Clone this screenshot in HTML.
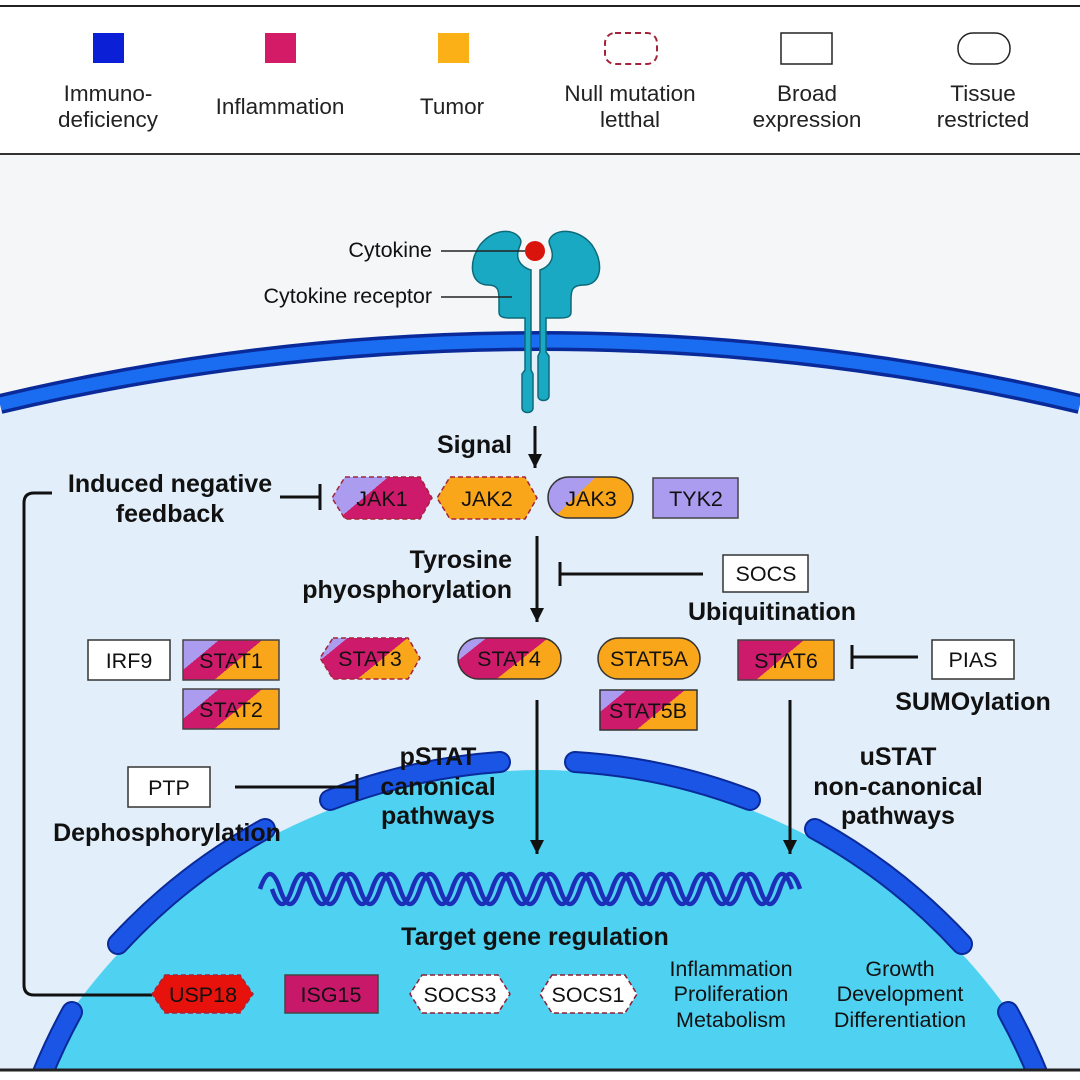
<!DOCTYPE html>
<html><head><meta charset="utf-8"><style>
html,body{margin:0;padding:0;background:#fff;width:1080px;height:1080px;overflow:hidden}
svg{display:block}
text{font-family:"Liberation Sans",Arial,sans-serif;fill:#111}
.b{font-weight:bold;font-size:25px}
.n{font-size:21.5px}
.l{font-size:22.5px;fill:#222}
</style></head><body>
<svg width="1080" height="1080" viewBox="0 0 1080 1080" xmlns="http://www.w3.org/2000/svg">
<defs>
<linearGradient id="g3" x1="0" y1="0" x2="1" y2="0.5"><stop offset="0.3" stop-color="#ab9cf0"/><stop offset="0.3" stop-color="#cd1a6b"/><stop offset="0.66" stop-color="#cd1a6b"/><stop offset="0.66" stop-color="#f9a61b"/></linearGradient>
<linearGradient id="g3b" x1="0" y1="0" x2="1" y2="0.5"><stop offset="0.22" stop-color="#ab9cf0"/><stop offset="0.22" stop-color="#cd1a6b"/><stop offset="0.7" stop-color="#cd1a6b"/><stop offset="0.7" stop-color="#f9a61b"/></linearGradient>
<linearGradient id="gLM" x1="0" y1="0" x2="1" y2="0.5"><stop offset="0.45" stop-color="#ab9cf0"/><stop offset="0.45" stop-color="#cd1a6b"/></linearGradient>
<linearGradient id="gLO" x1="0" y1="0" x2="1" y2="0.5"><stop offset="0.45" stop-color="#ab9cf0"/><stop offset="0.45" stop-color="#f9a61b"/></linearGradient>
<linearGradient id="gMO" x1="0" y1="0" x2="1" y2="0.5"><stop offset="0.55" stop-color="#cd1a6b"/><stop offset="0.55" stop-color="#f9a61b"/></linearGradient>
<marker id="ah" markerWidth="14" markerHeight="14" refX="12" refY="6" orient="auto" markerUnits="userSpaceOnUse" viewBox="0 0 12 12"><path d="M0 0 L12 6 L0 12 Z" fill="#111"/></marker>
</defs>
<rect x="0" y="0" width="1080" height="1080" fill="#fff"/>
<rect x="0" y="154" width="1080" height="916" fill="#f4f6f8"/>
<line x1="0" y1="6" x2="1080" y2="6" stroke="#222" stroke-width="2"/>
<line x1="0" y1="154" x2="1080" y2="154" stroke="#333" stroke-width="2"/>
<!-- legend -->
<rect x="93" y="33" width="31" height="30" fill="#0b1fd6"/>
<rect x="265" y="33" width="31" height="30" fill="#d41b68"/>
<rect x="438" y="33" width="31" height="30" fill="#fbb017"/>
<rect x="605" y="33" width="52" height="31" rx="10" fill="#fff" stroke="#a3243a" stroke-width="2" stroke-dasharray="6 4"/>
<rect x="781" y="33" width="51" height="31" fill="#fff" stroke="#222" stroke-width="1.5"/>
<rect x="958" y="33" width="52" height="31" rx="15" fill="#fff" stroke="#222" stroke-width="1.5"/>
<g text-anchor="middle">
<text x="108" y="101" class="l">Immuno-</text><text x="108" y="127" class="l">deficiency</text>
<text x="280" y="114" class="l">Inflammation</text>
<text x="452" y="114" class="l">Tumor</text>
<text x="630" y="101" class="l">Null mutation</text><text x="630" y="127" class="l">letthal</text>
<text x="807" y="101" class="l">Broad</text><text x="807" y="127" class="l">expression</text>
<text x="983" y="101" class="l">Tissue</text><text x="983" y="127" class="l">restricted</text>
</g>
<!-- cell -->
<path d="M0 412 A2346 2346 0 0 1 1080 412 L1080 1070 L0 1070 Z" fill="#e2eef9"/>
<path d="M0 404 A2346 2346 0 0 1 1080 404" fill="none" stroke="#0a2a9a" stroke-width="20"/>
<path d="M0 404 A2346 2346 0 0 1 1080 404" fill="none" stroke="#1a6df0" stroke-width="13"/>
<!-- nucleus -->
<circle cx="540" cy="1346" r="576" fill="#4fd2f2"/>
<g fill="none" stroke-linecap="round">
<g stroke="#0a2a9a" stroke-width="22">
<path d="M330 800 A585 585 0 0 1 500 762"/><path d="M575 762 A585 585 0 0 1 750 800"/>
<path d="M118 944 A585 585 0 0 1 265 829"/><path d="M815 829 A585 585 0 0 1 962 944"/>
<path d="M42 1075 A585 585 0 0 1 72 1012"/><path d="M1008 1012 A585 585 0 0 1 1038 1075"/>
</g>
<g stroke="#1a55e6" stroke-width="18">
<path d="M330 800 A585 585 0 0 1 500 762"/><path d="M575 762 A585 585 0 0 1 750 800"/>
<path d="M118 944 A585 585 0 0 1 265 829"/><path d="M815 829 A585 585 0 0 1 962 944"/>
<path d="M42 1075 A585 585 0 0 1 72 1012"/><path d="M1008 1012 A585 585 0 0 1 1038 1075"/>
</g>
</g>
<rect x="0" y="1071" width="1080" height="9" fill="#fff"/>
<line x1="0" y1="1070" x2="1080" y2="1070" stroke="#222" stroke-width="3"/>
<!-- receptor -->
<g fill="#1aa9c3" stroke="#0d6a7a" stroke-width="1.5">
<path d="M518 236 C510 228 492 230 480 245 C468 262 470 285 488 285 C498 285 499 290 499 300 L499 312 C499 317 503 318 510 318 L525 318 L525 370 L522 374 L522 408 C522 414 533 414 533 408 L533 374 L531 370 L531 270 C524 268 516 262 518 252 C519 245 524 242 518 236 Z"/>
<path d="M552 236 C560 228 580 230 592 245 C604 262 602 285 584 285 C572 285 571 290 571 300 L571 312 C571 317 567 318 560 318 L546 318 L546 352 L549 356 L549 396 C549 402 538 402 538 396 L538 356 L540 352 L540 270 C546 268 554 262 552 252 C551 245 546 242 552 236 Z"/>
</g>
<circle cx="535" cy="251" r="10" fill="#d8140d"/>
<line x1="441" y1="251" x2="525" y2="251" stroke="#222" stroke-width="1.5"/>
<line x1="441" y1="297" x2="512" y2="297" stroke="#222" stroke-width="1.5"/>
<text x="432" y="257" text-anchor="end" class="n">Cytokine</text>
<text x="432" y="303" text-anchor="end" class="n">Cytokine receptor</text>
<!-- connectors -->
<g stroke="#111" stroke-width="3" fill="none">
<line x1="535" y1="426" x2="535" y2="468" marker-end="url(#ah)"/>
<line x1="537" y1="536" x2="537" y2="622" marker-end="url(#ah)"/>
<line x1="537" y1="700" x2="537" y2="854" marker-end="url(#ah)"/>
<line x1="790" y1="700" x2="790" y2="854" marker-end="url(#ah)"/>
<line x1="703" y1="574" x2="560" y2="574"/><line x1="560" y1="562" x2="560" y2="586"/>
<line x1="918" y1="657" x2="852" y2="657"/><line x1="852" y1="645" x2="852" y2="669"/>
<line x1="235" y1="787" x2="357" y2="787"/><line x1="357" y1="774" x2="357" y2="800"/>
<line x1="280" y1="497" x2="320" y2="497"/><line x1="320" y1="484" x2="320" y2="510"/>
<path d="M52 493 L34 493 Q24 493 24 503 L24 985 Q24 995 34 995 L152 995"/>
</g>
<!-- nodes -->
<g stroke-width="1.5">
<path d="M345 477 L420 477 L432 498 L420 519 L345 519 L332 498 Z" fill="url(#gLM)" stroke="#a3243a" stroke-dasharray="5 3"/>
<path d="M450 477 L525 477 L537 498 L525 519 L450 519 L437 498 Z" fill="#f9a61b" stroke="#a3243a" stroke-dasharray="5 3"/>
<rect x="548" y="477" width="85" height="41" rx="20.5" fill="url(#gLO)" stroke="#333"/>
<rect x="653" y="478" width="85" height="40" fill="#ab9cf0" stroke="#444"/>
<rect x="723" y="555" width="85" height="37" fill="#fff" stroke="#333"/>
<rect x="88" y="640" width="82" height="40" fill="#fff" stroke="#333"/>
<rect x="183" y="640" width="96" height="40" fill="url(#g3)" stroke="#444"/>
<rect x="183" y="689" width="96" height="40" fill="url(#g3)" stroke="#444"/>
<path d="M333 638 L408 638 L420 658 L408 679 L333 679 L320 658 Z" fill="url(#g3b)" stroke="#a3243a" stroke-dasharray="5 3"/>
<rect x="458" y="638" width="103" height="41" rx="20.5" fill="url(#g3b)" stroke="#333"/>
<rect x="598" y="638" width="102" height="41" rx="20.5" fill="#f9a61b" stroke="#333"/>
<rect x="600" y="690" width="97" height="40" fill="url(#g3b)" stroke="#333"/>
<rect x="738" y="640" width="96" height="40" fill="url(#gMO)" stroke="#444"/>
<rect x="932" y="640" width="82" height="39" fill="#fff" stroke="#333"/>
<rect x="128" y="767" width="82" height="40" fill="#fff" stroke="#333"/>
<path d="M165 975 L240 975 L253 994 L240 1013 L165 1013 L152 994 Z" fill="#e8120c" stroke="#a3243a" stroke-dasharray="5 3"/>
<rect x="285" y="975" width="93" height="38" fill="#c8186a" stroke="#444"/>
<path d="M422 975 L498 975 L510 994 L498 1013 L422 1013 L410 994 Z" fill="#fff" stroke="#8a2035" stroke-dasharray="5 3"/>
<path d="M552 975 L625 975 L637 994 L625 1013 L552 1013 L540 994 Z" fill="#fff" stroke="#8a2035" stroke-dasharray="5 3"/>
</g>
<g text-anchor="middle">
<text x="382" y="506" class="n">JAK1</text><text x="487" y="506" class="n">JAK2</text>
<text x="591" y="506" class="n">JAK3</text><text x="696" y="506" class="n">TYK2</text>
<text x="766" y="581" class="n">SOCS</text>
<text x="129" y="668" class="n">IRF9</text><text x="231" y="668" class="n">STAT1</text>
<text x="231" y="717" class="n">STAT2</text><text x="370" y="666" class="n">STAT3</text>
<text x="509" y="666" class="n">STAT4</text><text x="649" y="666" class="n">STAT5A</text>
<text x="648" y="718" class="n">STAT5B</text><text x="786" y="668" class="n">STAT6</text>
<text x="973" y="667" class="n">PIAS</text><text x="169" y="795" class="n">PTP</text>
<text x="203" y="1002" class="n">USP18</text><text x="331" y="1002" class="n">ISG15</text>
<text x="460" y="1002" class="n">SOCS3</text><text x="588" y="1002" class="n">SOCS1</text>
<text x="731" y="976" class="n">Inflammation</text><text x="731" y="1001" class="n">Proliferation</text><text x="731" y="1027" class="n">Metabolism</text>
<text x="900" y="976" class="n">Growth</text><text x="900" y="1001" class="n">Development</text><text x="900" y="1027" class="n">Differentiation</text>
</g>
<g>
<text x="512" y="453" text-anchor="end" class="b">Signal</text>
<text x="170" y="492" text-anchor="middle" class="b">Induced negative</text>
<text x="170" y="522" text-anchor="middle" class="b">feedback</text>
<text x="512" y="568" text-anchor="end" class="b">Tyrosine</text>
<text x="512" y="598" text-anchor="end" class="b">phyosphorylation</text>
<text x="772" y="620" text-anchor="middle" class="b">Ubiquitination</text>
<text x="973" y="710" text-anchor="middle" class="b">SUMOylation</text>
<text x="438" y="765" text-anchor="middle" class="b">pSTAT</text>
<text x="438" y="795" text-anchor="middle" class="b">canonical</text>
<text x="438" y="824" text-anchor="middle" class="b">pathways</text>
<text x="898" y="765" text-anchor="middle" class="b">uSTAT</text>
<text x="898" y="795" text-anchor="middle" class="b">non-canonical</text>
<text x="898" y="824" text-anchor="middle" class="b">pathways</text>
<text x="167" y="841" text-anchor="middle" class="b">Dephosphorylation</text>
<text x="535" y="945" text-anchor="middle" class="b">Target gene regulation</text>
</g>
<!-- DNA -->
<g fill="none" stroke="#1c2fb8" stroke-width="4.5">
<path d="M260 889 q10 -30 20 0 t20 0 t20 0 t20 0 t20 0 t20 0 t20 0 t20 0 t20 0 t20 0 t20 0 t20 0 t20 0 t20 0 t20 0 t20 0 t20 0 t20 0 t20 0 t20 0 t20 0 t20 0 t20 0 t20 0 t20 0 t20 0 t20 0"/>
<path d="M272 889 q10 30 20 0 t20 0 t20 0 t20 0 t20 0 t20 0 t20 0 t20 0 t20 0 t20 0 t20 0 t20 0 t20 0 t20 0 t20 0 t20 0 t20 0 t20 0 t20 0 t20 0 t20 0 t20 0 t20 0 t20 0 t20 0 t20 0"/>
</g>
</svg>
</body></html>
